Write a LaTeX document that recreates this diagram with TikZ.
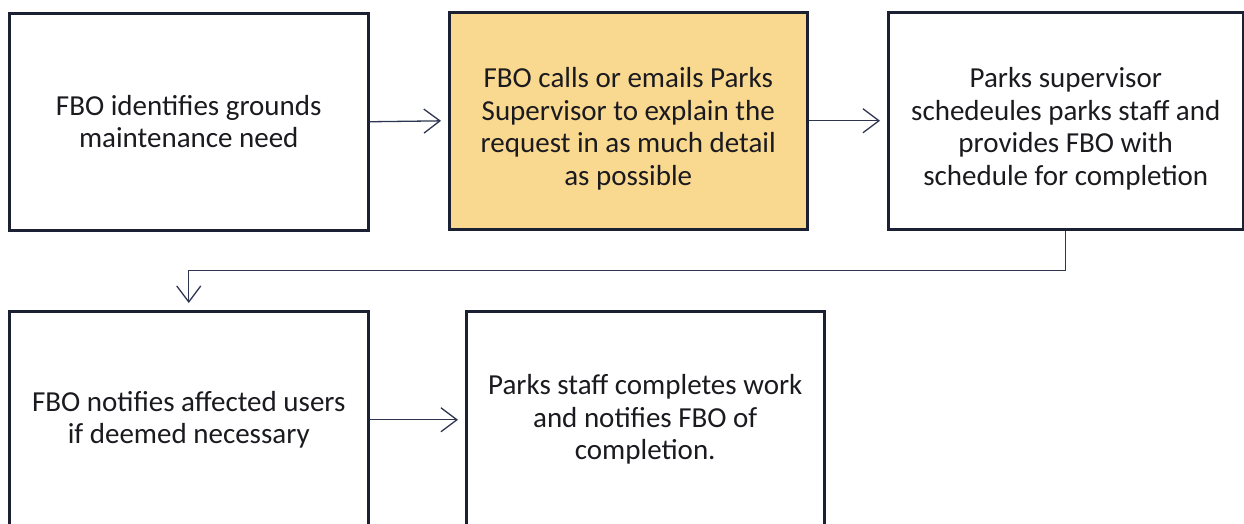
\documentclass[tikz,border=0pt]{standalone}
\usepackage{fontspec}
\setmainfont{Carlito}
\usetikzlibrary{arrows.meta}
\definecolor{edge}{HTML}{1C2033}
\definecolor{wire}{HTML}{2E3550}
\definecolor{boxfill}{HTML}{F9D890}
\definecolor{ink}{HTML}{1A1A1F}
\begin{document}
\begin{tikzpicture}[x=1pt,y=-1pt,
  stepbox/.style={draw=edge, line width=2.5pt, fill=white, minimum width=359pt, minimum height=217pt, anchor=north west, inner sep=0pt},
  txt/.style={font=\fontsize{29}{32.5}\selectfont, align=center, text=ink, inner sep=0pt},
  flow/.style={draw=wire, line width=1.3pt, -{Straight Barb[length=16pt,width=24pt,line width=1.3pt]}, shorten >=7pt}]
\useasboundingbox (0,0) rectangle (1244,523);
\clip (0,0) rectangle (1244,523);
\node[stepbox] (b1) at (8,12) {};
\node[stepbox, fill=boxfill, minimum width=358pt] (b2) at (448,11) {};
\node[stepbox, minimum width=355pt] (b3) at (887,11) {};
\node[stepbox] (b4) at (8,310) {};
\node[stepbox, minimum width=358pt] (b5) at (465,310) {};
\node[txt] (t1) at (b1.center) {FBO identifies grounds\\maintenance need};
\node[txt, yshift=-8pt] (t2) at (b2.center) {FBO calls or emails Parks\\Supervisor to explain the\\request in as much detail\\as possible};
\node[txt, yshift=-8pt] (t3) at (b3.center) {Parks supervisor\\schedeules parks staff and\\provides FBO with\\schedule for completion};
\node[txt] (t4) at (b4.center) {FBO notifies affected users\\if deemed necessary};
\node[txt] (t5) at (b5.center) {Parks staff completes work\\and notifies FBO of\\completion.};
\draw[flow] (b1.east) -- (b2.west);
\draw[flow] (b2.east) -- (b3.west);
\draw[flow] (b3.south) -- ++(0,40) coordinate (turn) -| (b4.north);
\draw[flow] (b4.east) -- (b5.west);
\end{tikzpicture}
\end{document}
